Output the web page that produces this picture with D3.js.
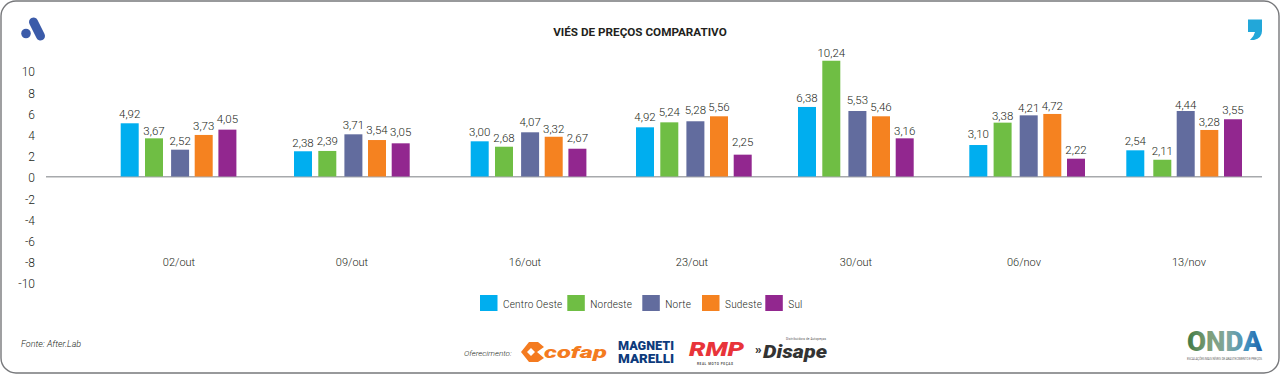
<!DOCTYPE html>
<html lang="pt"><head><meta charset="utf-8">
<script src="https://cdn.jsdelivr.net/npm/d3@7/dist/d3.min.js"></script>
<style>html,body{margin:0;padding:0;background:#fff}svg{display:block}text{font-family:Roboto,sans-serif}</style>
</head><body><svg id="c" width="1280" height="374"></svg>
<script>
const categories=["02/out","09/out","16/out","23/out","30/out","06/nov","13/nov"];
const seriesNames=["Centro Oeste","Nordeste","Norte","Sudeste","Sul"];
const yTicks=[10,8,6,4,2,0,-2,-4,-6,-8,-10];
// bar heights as drawn in the picture, read against the axis
const centroOeste=[5.02,2.38,3.32,4.64,6.56,2.97,2.47];
const nordeste=[3.60,2.41,2.81,5.11,10.92,5.08,1.58];
const norte=[2.53,3.98,4.17,5.21,6.18,5.77,6.18];
const sudeste=[3.92,3.44,3.75,5.68,5.68,5.90,4.39];
const sul=[4.42,3.13,2.62,2.06,3.60,1.68,5.40];
// printed value labels
const labelCentroOeste=["4,92","2,38","3,00","4,92","6,38","3,10","2,54"];
const labelNordeste=["3,67","2,39","2,68","5,24","10,24","3,38","2,11"];
const labelNorte=["2,52","3,71","4,07","5,28","5,53","4,21","4,44"];
const labelSudeste=["3,73","3,54","3,32","5,56","5,46","4,72","3,28"];
const labelSul=["4,05","3,05","2,67","2,25","3,16","2,22","3,55"];

const barValues=[centroOeste,nordeste,norte,sudeste,sul];
const barLabels=[labelCentroOeste,labelNordeste,labelNorte,labelSudeste,labelSul];

// layout (hand-placed in the original)
const colors=["#00aeef","#6fbe44","#626c9e","#f58220","#92278f"];
const groupX=d3.scaleOrdinal().domain(categories).range([120.7,294,470.7,636,798,969.3,1126.3]);
const catLabelX=d3.scaleOrdinal().domain(categories).range([179,352,525,692,856,1024,1189]);
const seriesOffset=d3.scaleOrdinal().domain(seriesNames).range([0,24.3,50.4,74,97.7]);
const labelGap=[[9,8,9.6,11,9.3,11.7,9.3],[7.3,10,9.4,11,7.7,6.7,8.7],[8.7,10,10.6,11,11,7.3,6.3],[9,10.3,8.4,9.6,9.6,8.3,8.3],[10.7,11.6,11.4,12.4,7.6,8.4,9]];
const barW=18;
const y=d3.scaleLinear().domain([-10,10]).range([282.5,70.5]);
const svg=d3.select("#c");

svg.append("rect").attr("x",1).attr("y",1).attr("width",1278).attr("height",372).attr("rx",15)
  .attr("fill","#fff").attr("stroke","#77787b").attr("stroke-width",1.4);

// title
svg.append("text").attr("x",640).attr("y",35.5).attr("text-anchor","middle").attr("font-size",11.7)
  .attr("font-weight",700).attr("fill","#231f20").text("VIÉS DE PREÇOS COMPARATIVO");

// y axis
const yAxis=svg.append("g").attr("transform","translate(37,1.5)")
  .call(d3.axisLeft(y).tickValues(yTicks).tickSize(0).tickPadding(2).tickFormat(d=>String(d)));
yAxis.select(".domain").remove();
yAxis.selectAll("text").attr("font-size",12).attr("font-weight",300).attr("fill","#231f20").style("font-family","Roboto,sans-serif");

// baseline
svg.append("line").attr("x1",46).attr("x2",1262).attr("y1",y(0)+.3).attr("y2",y(0)+.3)
  .attr("stroke","#a7a9ac").attr("stroke-width",1.5);

// bars and labels
seriesNames.forEach((s,si)=>{
  const g=svg.append("g");
  const xOf=(c,i)=>groupX(c)+seriesOffset(s)+(si===1&&i===6?2.7:0);
  g.selectAll("rect").data(categories).join("rect")
    .attr("x",(c,i)=>xOf(c,i)).attr("width",barW)
    .attr("y",(c,i)=>y(barValues[si][i])).attr("height",(c,i)=>y(0)-y(barValues[si][i]))
    .attr("fill",colors[si]);
  g.selectAll("text").data(categories).join("text")
    .attr("x",(c,i)=>xOf(c,i)+barW/2)
    .attr("y",(c,i)=>y(barValues[si][i])-labelGap[si][i]+4.2)
    .attr("text-anchor","middle").attr("font-size",11.5).attr("font-weight",300).attr("fill","#231f20")
    .text((c,i)=>barLabels[si][i]);
});

// category labels
svg.append("g").selectAll("text").data(categories).join("text")
  .attr("x",c=>catLabelX(c)).attr("y",266).attr("text-anchor","middle")
  .attr("font-size",11).attr("font-weight",300).attr("fill","#231f20").text(c=>c);

// legend
const legendSwatch=d3.scaleOrdinal().domain(seriesNames).range([480,567.3,642.3,702,765.3]);
const lg=svg.append("g");
lg.selectAll("rect").data(seriesNames).join("rect").attr("x",s=>legendSwatch(s)).attr("y",295)
  .attr("width",17.5).attr("height",16).attr("fill",(s,i)=>colors[i]);
lg.selectAll("text").data(seriesNames).join("text").attr("x",s=>legendSwatch(s)+23).attr("y",307.5)
  .attr("font-size",10).attr("font-weight",300).attr("letter-spacing",.2).attr("fill","#231f20").text(s=>s);

// source
svg.append("text").attr("x",21).attr("y",347).attr("font-size",9).attr("font-style","italic").attr("font-weight",300).attr("fill","#231f20").text("Fonte: After.Lab");
svg.append("text").attr("x",464).attr("y",356).attr("font-size",8).attr("font-style","italic").attr("font-weight",300).attr("fill","#231f20").text("Oferecimento:");

// top logos
svg.append("line").attr("x1",33.5).attr("y1",22).attr("x2",40.5).attr("y2",36).attr("stroke","#3b5ba9").attr("stroke-width",9).attr("stroke-linecap","round");
svg.append("circle").attr("cx",26).attr("cy",33.5).attr("r",4.8).attr("fill","#3b5ba9");
svg.append("path").attr("d","M1248 19.5H1262V31Q1262 38 1254 40H1250Q1254 36.5 1255 32H1248Z").attr("fill","#22a7d9");

// sponsors
svg.append("path").attr("d","M521 352L529 342H538L544 347L537 352L544 358L538 362H529ZM531 348L527 352L531 356L535 352Z").attr("fill","#f47b20").attr("fill-rule","evenodd");
svg.append("text").attr("x",544).attr("y",358).attr("font-size",17).attr("font-weight",900).attr("font-style","italic")
  .attr("fill","#f47b20").attr("textLength",63).attr("lengthAdjust","spacingAndGlyphs").text("cofap");
const mm=svg.append("g").attr("fill","#0d3b7c").attr("font-weight",900).attr("font-size",12).attr("text-anchor","start");
mm.append("text").attr("x",618).attr("y",349.5).attr("textLength",56).attr("lengthAdjust","spacingAndGlyphs").text("MAGNETI");
mm.append("text").attr("x",618).attr("y",363).attr("textLength",56).attr("lengthAdjust","spacingAndGlyphs").text("MARELLI");
svg.append("text").attr("x",689).attr("y",356).attr("font-size",20).attr("font-weight",900).attr("font-style","italic").attr("fill","#e8343a")
  .attr("textLength",55).attr("lengthAdjust","spacingAndGlyphs").text("RMP");
svg.append("text").attr("x",697).attr("y",365).attr("font-size",3.2).attr("font-weight",700).attr("fill","#555")
  .attr("textLength",36).text("REAL MOTO PEÇAS");
svg.append("text").attr("x",755).attr("y",354).attr("font-size",13).attr("font-weight",900).attr("fill","#333").text("»");
svg.append("text").attr("x",763).attr("y",358).attr("font-size",18).attr("font-weight",900).attr("font-style","italic").attr("fill","#333")
  .attr("textLength",64).attr("lengthAdjust","spacingAndGlyphs").text("Disape");
svg.append("text").attr("x",786).attr("y",340).attr("font-size",3).attr("fill","#555").attr("textLength",40).text("Distribuidora de Autopeças");

// ONDA
const grad=svg.append("defs").append("linearGradient").attr("id","onda").attr("x1",0).attr("x2",1).attr("y1",0).attr("y2",0);
[[0,"#3f7a45"],[.3,"#7f9f7a"],[.55,"#7fa7a0"],[.8,"#3f8fc0"],[1,"#1c5fa8"]].forEach(d=>grad.append("stop").attr("offset",d[0]).attr("stop-color",d[1]));
svg.append("text").attr("x",1187).attr("y",350.5).attr("font-size",27).attr("font-weight",900).attr("fill","url(#onda)")
  .attr("textLength",75).attr("lengthAdjust","spacingAndGlyphs").text("ONDA");
svg.append("text").attr("x",1187).attr("y",360).attr("font-size",3).attr("fill","#666").attr("textLength",75)
  .text("ESCALAÇÕES MAIS NÍVEIS DE ABASTECIMENTO E PREÇOS");
</script></body></html>
